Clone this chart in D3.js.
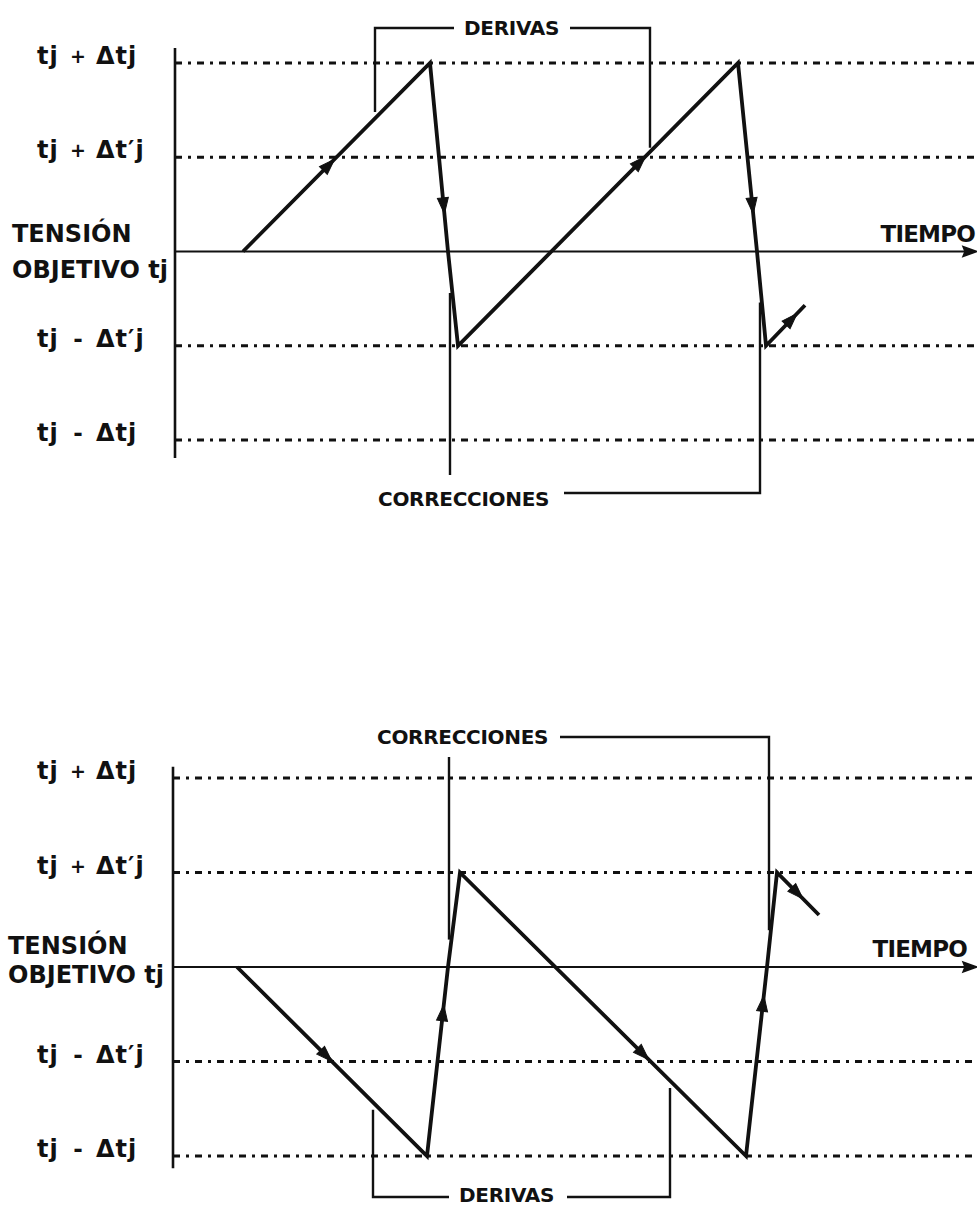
<!DOCTYPE html>
<html><head><meta charset="utf-8">
<script src="https://cdn.jsdelivr.net/npm/d3@7"></script>
<style>
html,body{margin:0;padding:0;background:#fff;}
text{font-family:"DejaVu Sans","Liberation Sans",Arial,sans-serif;font-weight:bold;fill:#111;}
</style></head>
<body><svg id="c" width="977" height="1206"></svg>
<script>
// ---- data ----
const levels = [2, 1, -1, -2];
const levelSigns = ["+", "+", "-", "-"];
const levelDeltas = ["Δtj", "Δt′j", "Δt′j", "Δtj"];
const topSignalT = [68, 255, 273, 283, 563, 582, 591, 630];
const topSignalV = [0, 2, 0, -1, 2, 0, -1, -0.57];
const topArrowSeg = [0, 1, 3, 4, 6];
const topArrowFrac = [0.49, 0.8, 0.67, 0.8, 0.8];
const botSignalT = [64, 254, 275, 287, 573, 594, 604, 646];
const botSignalV = [0, -2, 0, 1, -2, 0, 1, 0.55];
const botArrowSeg = [0, 1, 3, 4, 6];
const botArrowFrac = [0.5, 0.8, 0.66, 0.85, 0.62];
const labelObjetivo1 = "TENSIÓN";
const labelObjetivo2 = "OBJETIVO tj";
const labelTiempo = "TIEMPO";
const labelDerivas = "DERIVAS";
const labelCorrecciones = "CORRECCIONES";
// bracket positions (time units) and where they meet the signal (level units)
const topDerivasT = [200, 475], topDerivasV = [1.48, 1.10];
const topCorrT = [275, 585], topCorrV = [-0.44, -0.54];
const botCorrT = [276, 596], botCorrV = [0.29, 0.39];
const botDerivasT = [200, 497], botDerivasV = [-1.51, -1.28];

const svg = d3.select("#c");

function makeChart(cfg) {
  const g = svg.append("g");
  const x = d3.scaleLinear().domain([0, 800]).range([cfg.x0, cfg.x0 + 800]);
  const y = d3.scaleLinear().domain([-2, 2]).range(cfg.yRange);

  // dashed level lines
  g.selectAll("line.lvl").data(levels).enter().append("line")
    .attr("x1", x(0)).attr("x2", 977)
    .attr("y1", d => y(d)).attr("y2", d => y(d))
    .attr("stroke", "#111").attr("stroke-width", 2.8)
    .attr("stroke-dasharray", "7,6,3,6");

  // y axis
  g.append("line").attr("x1", x(0)).attr("x2", x(0))
    .attr("y1", y(cfg.axisV[0])).attr("y2", y(cfg.axisV[1]))
    .attr("stroke", "#111").attr("stroke-width", 2.6);

  // time axis
  g.append("line").attr("x1", x(0)).attr("x2", 970)
    .attr("y1", y(0)).attr("y2", y(0))
    .attr("stroke", "#111").attr("stroke-width", 2.2);
  g.append("path")
    .attr("d", `M977,${y(0)} L963,${y(0) - 5} L965,${y(0)} L963,${y(0) + 5} Z`)
    .attr("fill", "#111").attr("stroke", "#111").attr("stroke-width", 1.5);

  // level labels
  levels.forEach((v, i) => {
    const yy = y(v) + 1;
    g.append("text").attr("x", 37).attr("y", yy).attr("font-size", 24)
      .attr("letter-spacing", 1).text("tj");
    g.append("text").attr("x", 78).attr("y", yy - (levelSigns[i] === "+" ? 1 : 0))
      .attr("text-anchor", "middle").attr("font-size", levelSigns[i] === "+" ? 19 : 23)
      .text(levelSigns[i]);
    g.append("text").attr("x", 96).attr("y", yy).attr("font-size", 24)
      .attr("letter-spacing", 1).text(levelDeltas[i]);
  });

  g.append("text").attr("x", cfg.objX).attr("y", y(0) + cfg.objDy[0]).attr("font-size", 24).text(labelObjetivo1);
  g.append("text").attr("x", cfg.objX).attr("y", y(0) + cfg.objDy[1]).attr("font-size", 24).text(labelObjetivo2);
  g.append("text").attr("x", cfg.tiempoX).attr("y", y(0) - 10).attr("text-anchor", "end")
    .attr("font-size", 23).attr("letter-spacing", -0.8).text(labelTiempo);

  // signal
  const pts = cfg.sigT.map((t, i) => [x(t), y(cfg.sigV[i])]);
  g.append("path").attr("d", d3.line()(pts))
    .attr("fill", "none").attr("stroke", "#111").attr("stroke-width", 3.8)
    .attr("stroke-linejoin", "miter");

  // arrowheads along the signal
  cfg.arrSeg.forEach((s, i) => {
    const p0 = pts[s], p1 = pts[s + 1], f = cfg.arrFrac[i];
    const px = p0[0] + (p1[0] - p0[0]) * f, py = p0[1] + (p1[1] - p0[1]) * f;
    const ang = Math.atan2(p1[1] - p0[1], p1[0] - p0[0]) * 180 / Math.PI;
    g.append("path").attr("d", "M0,0 L-16,-5.5 L-16,5.5 Z")
      .attr("transform", `translate(${px},${py}) rotate(${ang})`)
      .attr("fill", "#111").attr("stroke", "#111").attr("stroke-width", 1);
  });

  // brackets
  const bw = 2.4;
  cfg.brackets.forEach(b => {
    const xl = x(b.t[0]), xr = x(b.t[1]);
    const hy = b.hy;
    g.append("path").attr("fill", "none").attr("stroke", "#111").attr("stroke-width", bw)
      .attr("d", b.leftJoined
        ? `M${xl},${y(b.v[0])} L${xl},${hy} L${b.textL - 10},${hy}`
        : `M${xl},${y(b.v[0])} L${xl},${b.leftEnd}`);
    g.append("path").attr("fill", "none").attr("stroke", "#111").attr("stroke-width", bw)
      .attr("d", `M${b.textR + 12},${hy} L${xr},${hy} L${xr},${y(b.v[1])}`);
    g.append("text").attr("x", b.textL).attr("y", b.ty).attr("font-size", 20)
      .attr("letter-spacing", -0.3).text(b.label);
  });
}

makeChart({
  x0: 175, yRange: [440, 63], axisV: [2.16, -2.19],
  objX: 12, objDy: [-10, 26], tiempoX: 975,
  sigT: topSignalT, sigV: topSignalV, arrSeg: topArrowSeg, arrFrac: topArrowFrac,
  brackets: [
    {t: topDerivasT, v: topDerivasV, hy: 28, leftJoined: true, textL: 464, textR: 558, ty: 35, label: labelDerivas},
    {t: topCorrT, v: topCorrV, hy: 493, leftJoined: false, leftEnd: 475, textL: 378, textR: 552, ty: 506, label: labelCorrecciones}
  ]
});

makeChart({
  x0: 173, yRange: [1156, 778], axisV: [2.12, -2.13],
  objX: 8, objDy: [-13, 16], tiempoX: 967,
  sigT: botSignalT, sigV: botSignalV, arrSeg: botArrowSeg, arrFrac: botArrowFrac,
  brackets: [
    {t: botCorrT, v: botCorrV, hy: 737, leftJoined: false, leftEnd: 757, textL: 377, textR: 548, ty: 744, label: labelCorrecciones},
    {t: botDerivasT, v: botDerivasV, hy: 1197, leftJoined: true, textL: 459, textR: 555, ty: 1202, label: labelDerivas}
  ]
});
</script></body></html>
